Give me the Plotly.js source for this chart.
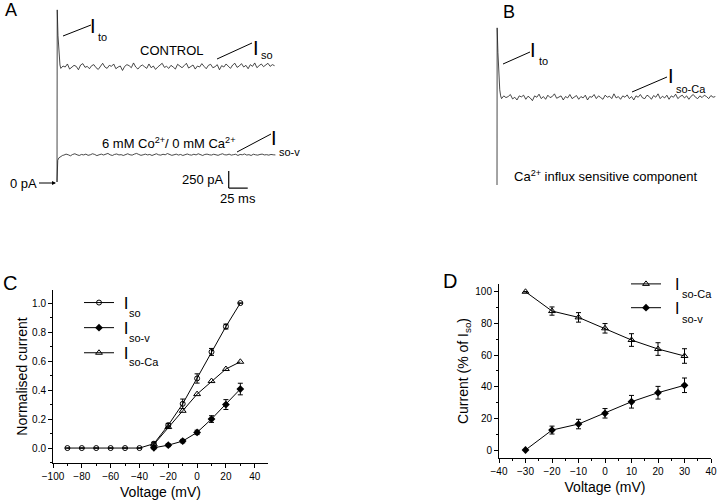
<!DOCTYPE html>
<html><head><meta charset="utf-8">
<script src="https://cdn.plot.ly/plotly-3.0.1.min.js"></script>
<style>html,body{margin:0;padding:0;background:#fff}</style>
</head><body><div id="chart" style="width:720px;height:502px"></div>
<script>
// ---------- Panel C data (normalised current vs voltage) ----------
const voltC = [-90,-80,-70,-60,-50,-40,-30,-20,-10,0,10,20,30];
const isoC = [0,0,0,0,0,0,0.03,0.158,0.305,0.48,0.663,0.838,1.0];
const isoCErr = [0,0,0,0,0,0,0.01,0.012,0.033,0.032,0.024,0.017,0];
const voltCsub = [-30,-20,-10,0,10,20,30];
const isoVC = [0.002,0.02,0.048,0.108,0.2,0.3,0.407];
const isoVCErr = [0.008,0.01,0.012,0.015,0.023,0.034,0.04];
const isoCaC = [0.025,0.145,0.257,0.372,0.462,0.545,0.595];

// ---------- Panel D data (% of Iso) ----------
const voltD = [-30,-20,-10,0,10,20,30];
const isoCaD = [100,87.8,83.8,76.9,69.5,63.8,59.4];
const isoCaDErr = [0,2.6,3,3,4,4,4.6];
const isoVD = [0,12.6,16.4,23.2,30.5,36.2,40.9];
const isoVDErr = [0,2.5,3,3,4,4,4.6];

// ---------- Panel A / B current traces (ms, pA) ----------
const ctrlOnsetT = [0,0.3,1.3,2.6,3.9];
const ctrlOnsetI = [0,2530,2150,1850,1720];
const ctrlStart = 5, ctrlDt = 2.9;
const ctrlI = [1670,1705,1690,1735,1660,1695,1715,1700,1650,1720,
1740,1685,1700,1665,1710,1725,1680,1655,1700,1745,
1690,1670,1715,1700,1735,1665,1690,1705,1640,1700,
1725,1710,1680,1750,1690,1660,1700,1720,1695,1670,
1735,1680,1705,1655,1690,1725,1745,1685,1700,1670,
1715,1690,1660,1730,1700,1680,1710,1745,1675,1695,
1720,1660,1705,1690,1740,1700,1665,1715,1730,1680,
1695,1725,1650,1710,1690,1735,1700,1670,1720,1745,
1685,1705,1740,1690,1715,1665,1725,1700,1750,1680,
1710,1735,1695,1720,1745,1700,1725,1710];

const coOnsetT = [0,0.3,1,2.5,5,7.5];
const coOnsetI = [0,260,320,355,380,392];
const coStart = 9, coDt = 2.9;
const coI = [395,410,400,385,405,415,400,390,405,398,
410,392,400,415,405,388,400,410,397,405,
420,400,390,405,412,398,402,390,408,415,
400,395,410,420,405,392,400,410,398,405,
390,402,415,400,395,408,400,418,405,392,
400,410,396,405,390,402,412,400,395,408,
398,415,402,390,405,410,400,396,408,400,
392,405,415,400,398,410,395,402,408,390,
405,400,412,396,402,390,408,400,395,405,
410,398,402,395,405,400,398];

const caOnsetT = [0,0.2,1.2,2.4,3.6,4.8];
const caOnsetI = [0,2310,1950,1600,1400,1310];
const caStart = 6, caDt = 2.9;
const caI = [1270,1310,1285,1300,1330,1265,1290,1250,1310,1295,
1320,1260,1305,1280,1240,1310,1290,1335,1270,1300,
1260,1320,1285,1300,1340,1275,1290,1310,1250,1300,
1280,1330,1270,1295,1315,1260,1300,1280,1320,1250,
1300,1290,1330,1270,1310,1285,1260,1320,1290,1305,
1270,1340,1280,1300,1260,1310,1290,1325,1270,1300,
1250,1310,1290,1330,1280,1270,1320,1300,1260,1315,
1290,1340,1270,1305,1280,1320,1260,1310,1290,1335,
1270,1300,1320,1280,1310,1260,1305,1330,1290,1270,
1310,1285,1320,1300,1270,1315,1290,1300];

const scaleBarPA = 250, scaleBarMS = 25;

// ---------- helpers ----------
const W = 720, H = 502;
const F = 'Liberation Sans, Arial, sans-serif';
const dx = (a,b)=>[a/W, b/W];
const dy = (top,bottom)=>[1-bottom/H, 1-top/H];
const times = (onset, start, dt, vals)=>onset.concat(vals.map((_,i)=>start+i*dt));

const traceLine = {color:'#1a1a1a', width:0.8};
const errStyle = (arr)=>({type:'data', array:arr, visible:true, thickness:1, width:2.5, color:'#000'});
const NB = '\u00a0';

const data = [
  // Panel C
  {x:voltC, y:isoC, xaxis:'x', yaxis:'y', mode:'lines+markers', name:NB+'I', legend:'legend',
   line:{color:'#000',width:1}, marker:{symbol:'circle-open',size:5,color:'#000',line:{width:1}},
   error_y:errStyle(isoCErr)},
  {x:voltCsub, y:isoVC, xaxis:'x', yaxis:'y', mode:'lines+markers', name:NB+'I', legend:'legend',
   line:{color:'#000',width:1}, marker:{symbol:'diamond',size:6,color:'#000'},
   error_y:errStyle(isoVCErr)},
  {x:voltCsub, y:isoCaC, xaxis:'x', yaxis:'y', mode:'lines+markers', name:NB+'I', legend:'legend',
   line:{color:'#000',width:1}, marker:{symbol:'triangle-up-open',size:6,color:'#000',line:{width:1}}},
  // Panel D
  {x:voltD, y:isoCaD, xaxis:'x2', yaxis:'y2', mode:'lines+markers', name:NB+NB+'I', legend:'legend2',
   line:{color:'#000',width:1}, marker:{symbol:'triangle-up-open',size:6,color:'#000',line:{width:1}},
   error_y:errStyle(isoCaDErr)},
  {x:voltD, y:isoVD, xaxis:'x2', yaxis:'y2', mode:'lines+markers', name:NB+NB+'I', legend:'legend2',
   line:{color:'#000',width:1}, marker:{symbol:'diamond',size:6,color:'#000'},
   error_y:errStyle(isoVDErr)},
  // Panel A traces
  {x:times(ctrlOnsetT,ctrlStart,ctrlDt,ctrlI), y:ctrlOnsetI.concat(ctrlI), xaxis:'x3', yaxis:'y3',
   mode:'lines', line:traceLine, showlegend:false},
  {x:times(coOnsetT,coStart,coDt,coI), y:coOnsetI.concat(coI), xaxis:'x3', yaxis:'y3',
   mode:'lines', line:traceLine, showlegend:false},
  // Panel B trace
  {x:times(caOnsetT,caStart,caDt,caI), y:caOnsetI.concat(caI), xaxis:'x4', yaxis:'y4',
   mode:'lines', line:traceLine, showlegend:false}
];

const axBase = {showline:true, linecolor:'#000', linewidth:1, ticks:'outside', ticklen:4, tickwidth:1,
  tickcolor:'#000', showgrid:false, zeroline:false, mirror:false,
  tickfont:{family:F,size:10,color:'#000'}, fixedrange:true};
const hidden = {visible:false, fixedrange:true};

const P = (x,y)=>({x:x/W, y:1-y/H, xref:'paper', yref:'paper'});
const txt = (x,y,text,size,anchor)=>Object.assign(P(x,y),
  {text:text, showarrow:false, font:{family:F,size:size,color:'#000'}, xanchor:anchor||'center', yanchor:'middle'});
const seg = (x0,y0,x1,y1)=>({type:'line', xref:'paper', yref:'paper', x0:x0/W, y0:1-y0/H, x1:x1/W, y1:1-y1/H,
  line:{color:'#000', width:1}});

const annotations = [
  txt(11,10,'A',18), txt(509,12,'B',18), txt(10,283,'C',20), txt(450,281,'D',20),
  // Panel A labels
  txt(93,26,'I',20), txt(96,37,'to',11,'left'),
  txt(172,50,'CONTROL',13),
  txt(256,48,'I',20), txt(259,55,'so',11,'left'),
  txt(168,143,'6 mM Co<sup>2+</sup>/ 0 mM Ca<sup>2+</sup>',13),
  txt(274,138,'I',20), txt(277,152,'so-v',11,'left'),
  Object.assign(P(56,183), {text:'0 pA', showarrow:true, ax:-17, ay:0, xanchor:'right', arrowhead:2,
    arrowsize:0.8, arrowwidth:1, arrowcolor:'#000', standoff:0, startstandoff:0,
    font:{family:F,size:13,color:'#000'}}),
  txt(226,179,'250 pA',13,'right'), txt(238,198,'25 ms',13),
  // Panel B labels
  txt(533,50,'I',20), txt(537,61,'to',11,'left'),
  txt(671,76,'I',20), txt(674,89,'so-Ca',11,'left'),
  txt(605,176,'Ca<sup>2+</sup> influx sensitive component',13),
  // legend subscripts
  txt(127,313,'so',11,'left'), txt(127,338,'so-v',11,'left'), txt(127,362,'so-Ca',11,'left'),
  txt(680,294,'so-Ca',11,'left'), txt(680,319,'so-v',11,'left')
];

const shapes = [
  seg(63,36,91,25), seg(217,59,252,43), seg(237,152,271,134),
  seg(503,64,530,52), seg(632,92,667,77),
  {type:'line', xref:'x3', yref:'y3', x0:226, x1:226, y0:-90, y1:-90+scaleBarPA, line:{color:'#000',width:1.2}},
  {type:'line', xref:'x3', yref:'y3', x0:226, x1:226+scaleBarMS, y0:-90, y1:-90, line:{color:'#000',width:1.2}}
];

const layout = {
  width:W, height:H, margin:{l:0,r:0,t:0,b:0},
  paper_bgcolor:'#fff', plot_bgcolor:'rgba(0,0,0,0)',
  font:{family:F, color:'#000'},
  showlegend:true, hovermode:false,
  xaxis:Object.assign({}, axBase, {domain:dx(53,268), range:[-100,49.2], anchor:'y',
    tick0:-100, dtick:20, minor:{dtick:10, ticklen:2, tickcolor:'#000', ticks:'outside'},
    title:{text:'Voltage (mV)', font:{family:F,size:14,color:'#000'}, standoff:6}}),
  yaxis:Object.assign({}, axBase, {domain:dy(290,463), range:[-0.103,1.09], anchor:'x',
    tick0:0, dtick:0.2, tickformat:'.1f', minor:{dtick:0.1, ticklen:2, tickcolor:'#000', ticks:'outside'},
    title:{text:'Normalised current', font:{family:F,size:14,color:'#000'}, standoff:1}}),
  xaxis2:Object.assign({}, axBase, {domain:dx(499,711), range:[-40,40], anchor:'y2',
    tick0:-40, dtick:10, minor:{dtick:5, ticklen:2, tickcolor:'#000', ticks:'outside'},
    title:{text:'Voltage (mV)', font:{family:F,size:14,color:'#000'}, standoff:6}}),
  yaxis2:Object.assign({}, axBase, {domain:dy(284,458), range:[-5.05,104.9], anchor:'x2',
    tick0:0, dtick:20, minor:{dtick:10, ticklen:2, tickcolor:'#000', ticks:'outside'},
    title:{text:'Current (% of I<sub>so</sub>)', font:{family:F,size:14,color:'#000'}, standoff:3}}),
  xaxis3:Object.assign({}, hidden, {domain:dx(40,300), range:[(40-57)*1.316,(300-57)*1.316], anchor:'y3'}),
  yaxis3:Object.assign({}, hidden, {domain:dy(0,230), range:[(182-230)*14.7,182*14.7], anchor:'x3'}),
  xaxis4:Object.assign({}, hidden, {domain:dx(480,720), range:[(480-497)*1.316,(720-497)*1.316], anchor:'y4'}),
  yaxis4:Object.assign({}, hidden, {domain:dy(0,230), range:[(185-230)*14.7,185*14.7], anchor:'x4'}),
  legend:{x:79/W, xanchor:'left', y:1-285/H, yanchor:'top', bgcolor:'rgba(0,0,0,0)', borderwidth:0,
    font:{family:F,size:17,color:'#000'}, traceorder:'normal'},
  legend2:{x:626/W, xanchor:'left', y:1-296/H, yanchor:'middle', bgcolor:'rgba(0,0,0,0)', borderwidth:0,
    font:{family:F,size:16,color:'#000'}, traceorder:'normal'},
  annotations:annotations, shapes:shapes
};

Plotly.newPlot('chart', data, layout, {displayModeBar:false, staticPlot:true});
</script></body></html>
